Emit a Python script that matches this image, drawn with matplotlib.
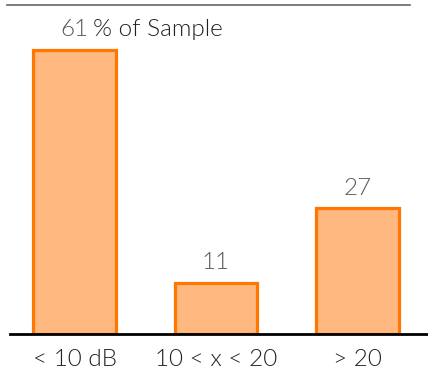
import matplotlib
matplotlib.use("Agg")
import matplotlib.pyplot as plt
from matplotlib.lines import Line2D

categories = ["< 10 dB", "10 < x < 20", "> 20"]
values = [61, 11, 27]

plt.rcParams['font.family'] = ['Lato', 'DejaVu Sans']

W, H = 428, 370
fig = plt.figure(figsize=(W/100, H/100), dpi=100)
ax = fig.add_axes([10/W, (H-334)/H, 418/W, 329/H])

x = list(range(len(categories)))
ax.bar(x, values, width=0.58, color='#FFB880', edgecolor='#FF7700', linewidth=2.3, zorder=2)
ax.set_xlim(-0.456, 2.498)
ax.set_ylim(0, 61*329/284)

for s in ['top', 'right', 'left']:
    ax.spines[s].set_visible(False)
ax.spines['bottom'].set_color('black')
ax.spines['bottom'].set_linewidth(2)
ax.set_yticks([])
ax.set_xticks(x)
ax.set_xticklabels(categories, fontsize=17.5, fontweight=300, color='#222222')
ax.tick_params(axis='x', length=0, pad=11)

for i, v in enumerate(values):
    ax.annotate(str(v), (i, v), xytext=(0, 7), textcoords='offset points',
                ha='center', va='bottom', fontsize=17.5, fontweight=300, color='#5a5a5a')
ax.annotate("% of Sample", (0, values[0]), xytext=(13, 7), textcoords='offset points',
            ha='left', va='bottom', fontsize=17.5, fontweight=300, color='#222222')

fig.add_artist(Line2D([7/W, 410/W], [(H-5)/H, (H-5)/H], color='#666666', linewidth=1.2))

fig.savefig("out.png", dpi=100)
